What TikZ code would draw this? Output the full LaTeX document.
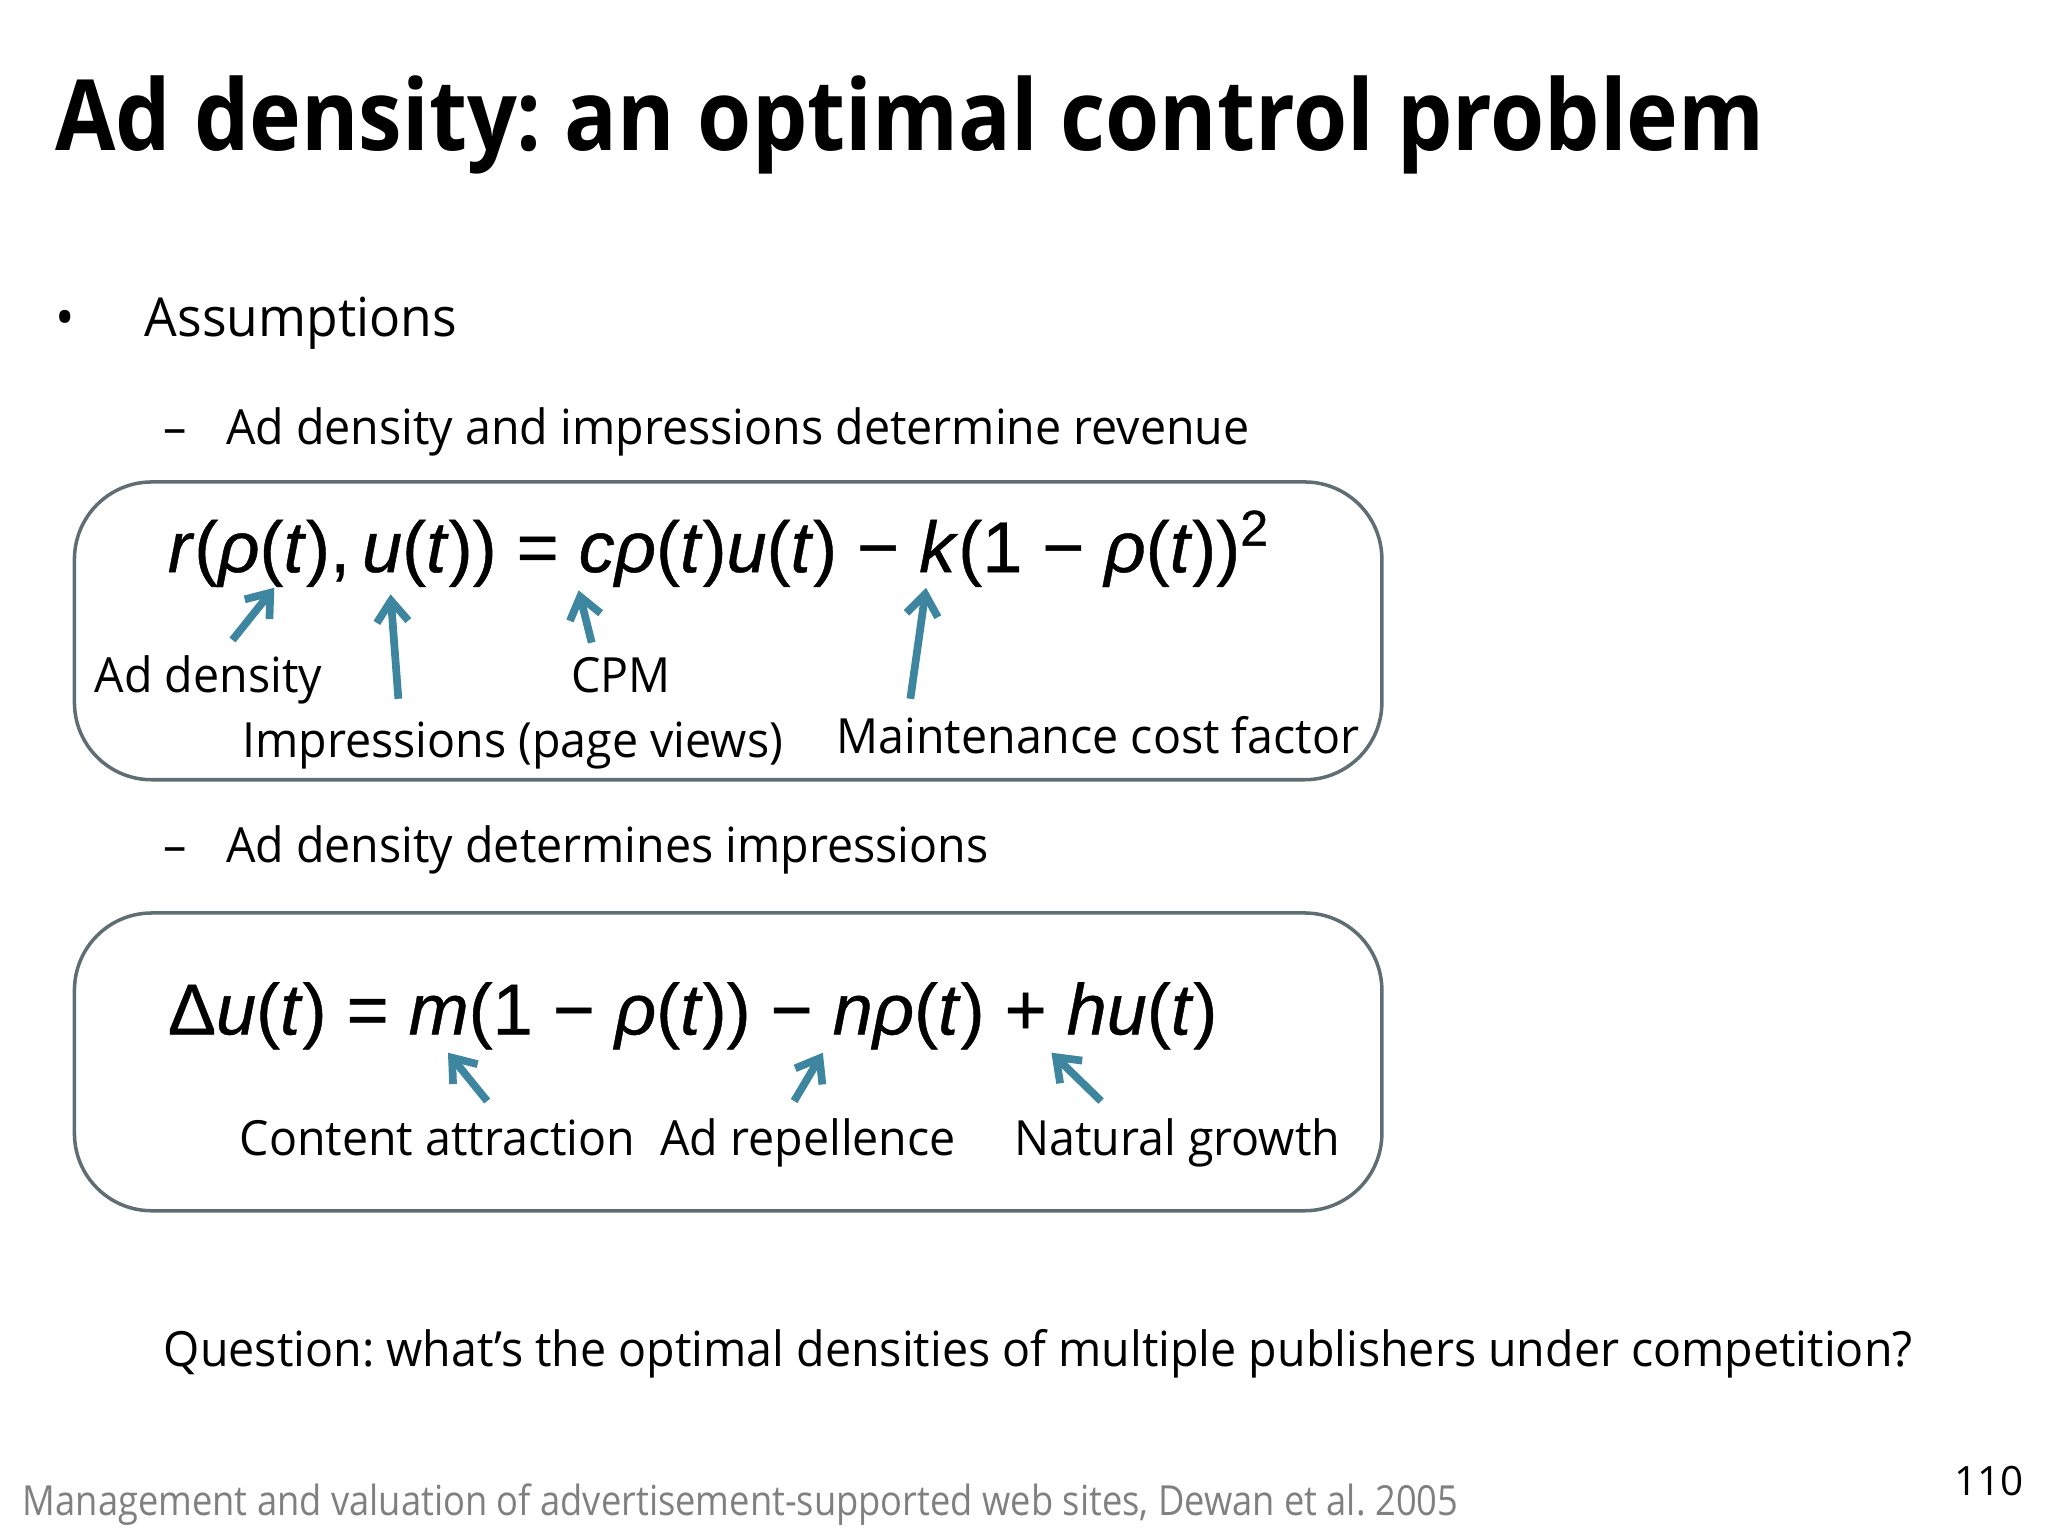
\documentclass[tikz,border=0pt]{standalone}
\usepackage{fontspec}
\setmainfont{Open Sans}
\newfontfamily\narrowf[FakeStretch=0.96]{Open Sans}
\newfontfamily\titlef[FakeStretch=0.89]{Open Sans}
\newfontfamily\footf[FakeStretch=0.875]{Open Sans}
\newfontfamily\eqf[FakeBold=0.6]{Liberation Sans}
\usetikzlibrary{arrows.meta}
\definecolor{teal1}{RGB}{62,133,160}
\definecolor{boxg}{RGB}{95,110,115}
\newcommand{\iv}[1]{\textit{#1}}
\frenchspacing
\tikzset{
 lbl/.style={inner sep=0pt,font=\narrowf\fontsize{13.8}{16}\selectfont},
 eq/.style={inner sep=0pt,font=\eqf\fontsize{20.5}{24}\selectfont},
 arr/.style={teal1,line width=2.2pt,-{Straight Barb[length=6pt,width=9pt]}},
 bx/.style={draw=boxg,line width=1pt,rounded corners=22pt}
}
\begin{document}
\begin{tikzpicture}[x=0.013061cm,y=-0.013061cm]
\useasboundingbox (0,0) rectangle (1568,1176);
\node[inner sep=0pt,anchor=base west,font=\titlef\bfseries\fontsize{28}{32}\selectfont] (title) at (42,115) {Ad density: an optimal control problem};
\node[inner sep=0pt,anchor=base west,font=\narrowf\fontsize{15.3}{18}\selectfont] (b1) at (42,258) {•\hspace{1.3em}Assumptions};
\node[lbl,anchor=base west] (s1) at (125,340) {–\hspace{0.8em}Ad density and impressions determine revenue};
\draw[bx] (57,369) rectangle (1058,597);
\node[eq,anchor=base west] (e1) at (128,438) {\iv{r}(\iv{ρ}(\iv{t}),\,\iv{u}(\iv{t})) = \iv{cρ}(\iv{t})\iv{u}(\iv{t}) − \iv{k}(1 − \iv{ρ}(\iv{t}))\textsuperscript{2}};
\node[lbl,anchor=base west] (l1) at (72,530) {Ad density};
\node[lbl,anchor=base west] (l2) at (437,530) {CPM};
\node[lbl,anchor=base west] (l3) at (185,580) {Impressions (page views)};
\node[lbl,anchor=base west] (l4) at (640,577) {Maintenance cost factor};
\coordinate (a1s) at (178,490); \coordinate (a1e) at (210,450);
\coordinate (a2s) at (305,535); \coordinate (a2e) at (299,455);
\coordinate (a3s) at (453,492); \coordinate (a3e) at (443,452);
\coordinate (a4s) at (697,535); \coordinate (a4e) at (709,450);
\draw[arr] (a1s) -- (a1e); \draw[arr] (a2s) -- (a2e);
\draw[arr] (a3s) -- (a3e); \draw[arr] (a4s) -- (a4e);
\node[lbl,anchor=base west] (s2) at (125,660) {–\hspace{0.8em}Ad density determines impressions};
\draw[bx] (57,699) rectangle (1058,927);
\node[eq,anchor=base west] (e2) at (128,792) {Δ\iv{u}(\iv{t}) = \iv{m}(1 − \iv{ρ}(\iv{t})) − \iv{nρ}(\iv{t}) + \iv{hu}(\iv{t})};
\node[lbl,anchor=base west] (m1) at (183,885) {Content attraction};
\node[lbl,anchor=base west] (m2) at (505,885) {Ad repellence};
\node[lbl,anchor=base west] (m3) at (776,885) {Natural growth};
\coordinate (c1s) at (373,843); \coordinate (c1e) at (343,806);
\coordinate (c2s) at (608,843); \coordinate (c2e) at (630,806);
\coordinate (c3s) at (843,843); \coordinate (c3e) at (805,806);
\draw[arr] (c1s) -- (c1e); \draw[arr] (c2s) -- (c2e); \draw[arr] (c3s) -- (c3e);
\node[lbl,anchor=base west] (q) at (125,1046) {Question: what’s the optimal densities of multiple publishers under competition?};
\node[inner sep=0pt,anchor=base west,text=gray,font=\footf\fontsize{11.8}{14}\selectfont] (ft) at (17,1160) {Management and valuation of advertisement-supported web sites, Dewan et al. 2005};
\node[inner sep=0pt,anchor=base east,font=\fontsize{11.5}{14}\selectfont] (pg) at (1550,1145) {110};
\end{tikzpicture}
\end{document}
